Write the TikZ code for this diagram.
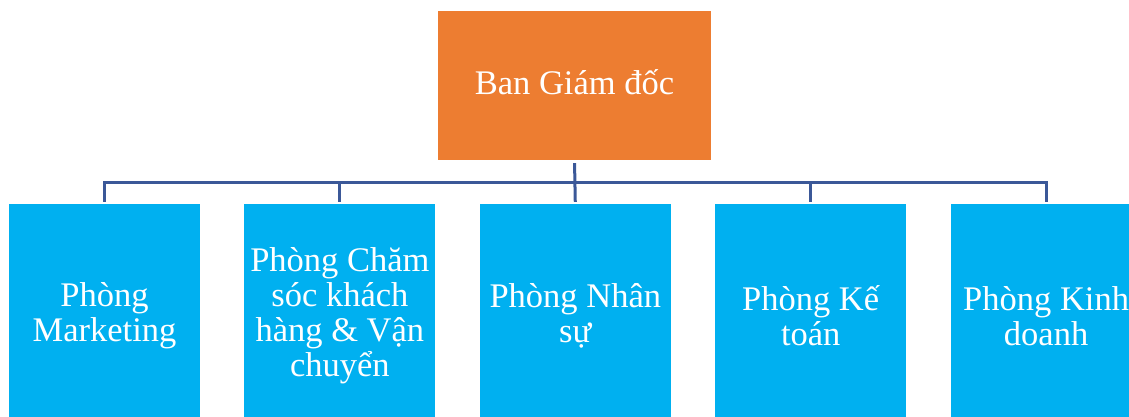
\documentclass[tikz,border=0pt]{standalone}
\usepackage{fontspec}
\setmainfont{Liberation Serif}
\usetikzlibrary{positioning}
\definecolor{bossorange}{HTML}{ED7D31}
\definecolor{deptblue}{HTML}{00B0F0}
\definecolor{linkblue}{HTML}{3B5898}

\begin{document}
\begin{tikzpicture}[x=1pt, y=-1pt,
  boss/.style={rectangle, fill=bossorange, text=white, minimum width=273pt, minimum height=149pt, inner sep=0pt, text depth=6pt, font=\fontsize{34.5}{35}\selectfont},
  dept/.style={rectangle, fill=deptblue, text=white, minimum width=191pt, minimum height=224pt, inner sep=0pt, align=center, font=\fontsize{34.5}{35}\selectfont},
  link/.style={draw=linkblue, line width=3pt}]
\useasboundingbox (0,0) rectangle (1129,416);

\node[boss] (G) at (574.5,85.5) {Ban Giám đốc};

\node[dept] (M) at (104.5,316) {Phòng\\Marketing};
\node[dept, right=44pt of M] (C) {Phòng Chăm\\sóc khách\\hàng \& Vận\\chuyển};
\node[dept, right=44pt of C] (N) {Phòng Nhân\\sự};
\node[dept, right=44pt of N] (K) {Phòng Kế\\toán};
\node[dept, right=44pt of K] (D) {Phòng Kinh\\doanh};

\coordinate (J) at (574.5,182);
\draw[link, shorten <=3pt, shorten >=2pt] (G.south) -- (N.north);
\draw[link, shorten <=2pt, shorten >=2pt] (M.north) -- (M.north |- J) -- (D.north |- J) -- (D.north);
\draw[link, shorten >=2pt] (C.north |- J) -- (C.north);
\draw[link, shorten >=2pt] (K.north |- J) -- (K.north);
\end{tikzpicture}
\end{document}
